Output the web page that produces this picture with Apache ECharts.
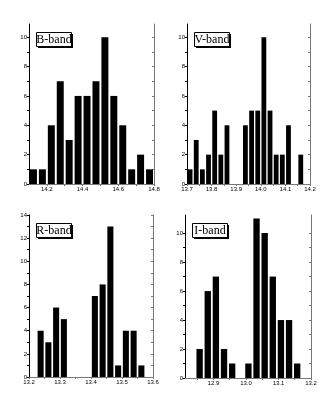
<!DOCTYPE html>
<html lang="en">
<head>
    <meta charset="UTF-8">
    <title>Band histograms</title>
    <script src="https://cdn.jsdelivr.net/npm/echarts@6/dist/echarts.min.js"></script>
</head>
<body style="margin:0;background:#fff;">
<div id="main" style="width: 327px; height: 403px;"></div>
<script type="text/javascript">
    // bin counts for each band (bins start at *Start, width *Width)
    var bStart = 14.1, bWidth = 0.05;
    var bCounts = [1, 1, 4, 7, 3, 6, 6, 7, 10, 6, 4, 1, 2, 1];
    var vStart = 13.7, vWidth = 0.025;
    var vCounts = [1, 3, 1, 2, 5, 2, 4, 0, 0, 4, 5, 5, 10, 5, 2, 2, 4, 0, 2];
    var rStart = 13.2, rWidth = 0.025;
    var rCounts = [0, 4, 3, 6, 5, 0, 0, 0, 7, 8, 13, 1, 4, 4, 1];
    var iStart = 12.845, iWidth = 0.025;
    var iCounts = [2, 6, 7, 2, 1, 0, 1, 11, 10, 7, 4, 4, 1];

    // axis ticks and labels
    var bXTicks = [14.2, 14.3, 14.4, 14.5, 14.6, 14.7, 14.8];
    var bXLabels = [14.2, 14.4, 14.6, 14.8];
    var vXTicks = [13.7, 13.75, 13.8, 13.85, 13.9, 13.95, 14.0, 14.05, 14.1, 14.15, 14.2];
    var vXLabels = [13.7, 13.8, 13.9, 14.0, 14.1, 14.2];
    var rXTicks = [13.2, 13.25, 13.3, 13.35, 13.4, 13.45, 13.5, 13.55, 13.6];
    var rXLabels = [13.2, 13.3, 13.4, 13.5, 13.6];
    var iXTicks = [12.85, 12.9, 12.95, 13.0, 13.05, 13.1, 13.15, 13.2];
    var iXLabels = [12.9, 13.0, 13.1, 13.2];
    var yTicks11 = [0, 1, 2, 3, 4, 5, 6, 7, 8, 9, 10];
    var yLabels11 = [0, 2, 4, 6, 8, 10];
    var yTicks14 = [0, 1, 2, 3, 4, 5, 6, 7, 8, 9, 10, 11, 12, 13, 14];
    var yLabels14 = [0, 2, 4, 6, 8, 10, 12, 14];

    var bandNames = ['B-band', 'V-band', 'R-band', 'I-band'];

    var panels = [
        {start: bStart, width: bWidth, counts: bCounts, xTicks: bXTicks, xLabels: bXLabels,
            yTicks: yTicks11, yLabels: yLabels11, xmin: 14.1, xmax: 14.8, ymax: 10.9,
            grid: {left: 29, top: 24, width: 125, height: 160}},
        {start: vStart, width: vWidth, counts: vCounts, xTicks: vXTicks, xLabels: vXLabels,
            yTicks: yTicks11, yLabels: yLabels11, xmin: 13.7, xmax: 14.2, ymax: 10.9,
            grid: {left: 187, top: 24, width: 123, height: 160}},
        {start: rStart, width: rWidth, counts: rCounts, xTicks: rXTicks, xLabels: rXLabels,
            yTicks: yTicks14, yLabels: yLabels14, xmin: 13.2, xmax: 13.6, ymax: 14,
            grid: {left: 29, top: 215, width: 124, height: 162}},
        {start: iStart, width: iWidth, counts: iCounts, xTicks: iXTicks, xLabels: iXLabels,
            yTicks: yTicks11, yLabels: yLabels11, xmin: 12.8125, xmax: 13.2, ymax: 11.25,
            grid: {left: 185, top: 215, width: 126, height: 163}}
    ];

    var labelFont = {fontFamily: 'Liberation Sans', fontSize: 6, color: '#000'};

    var grids = [], xAxes = [], yAxes = [], series = [], graphics = [];

    panels.forEach(function (p, k) {
        grids.push(p.grid);
        // bottom / left axes carry the labels
        xAxes.push({
            gridIndex: k, type: 'value', position: 'bottom', min: p.xmin, max: p.xmax,
            splitLine: {show: false},
            axisLine: {lineStyle: {color: '#000', width: 1}},
            axisTick: {customValues: p.xTicks, length: 2, lineStyle: {color: '#000'}},
            axisLabel: Object.assign({customValues: p.xLabels, margin: 2,
                formatter: function (v) { return v.toFixed(1); }}, labelFont)
        });
        // top / right axes: only the frame with small ticks
        xAxes.push({
            gridIndex: k, type: 'value', position: 'top', min: p.xmin, max: p.xmax,
            splitLine: {show: false},
            axisLine: {lineStyle: {color: '#777', width: 1}},
            axisTick: {customValues: p.xTicks, length: 2, inside: true, lineStyle: {color: '#777'}},
            axisLabel: {show: false}
        });
        yAxes.push({
            gridIndex: k, type: 'value', position: 'left', min: 0, max: p.ymax,
            splitLine: {show: false},
            axisLine: {lineStyle: {color: '#000', width: 1}},
            axisTick: {customValues: p.yTicks, length: 2, lineStyle: {color: '#000'}},
            axisLabel: Object.assign({customValues: p.yLabels, margin: 2}, labelFont)
        });
        yAxes.push({
            gridIndex: k, type: 'value', position: 'right', min: 0, max: p.ymax,
            splitLine: {show: false},
            axisLine: {lineStyle: {color: '#777', width: 1}},
            axisTick: {customValues: p.yTicks, length: 2, inside: true, lineStyle: {color: '#777'}},
            axisLabel: {show: false}
        });

        var data = [];
        for (var i = 0; i < p.counts.length; i++) {
            if (p.counts[i] > 0) {
                data.push([p.start + i * p.width, p.start + (i + 1) * p.width, p.counts[i]]);
            }
        }
        series.push({
            type: 'custom',
            xAxisIndex: k * 2,
            yAxisIndex: k * 2,
            silent: true,
            data: data,
            renderItem: function (params, api) {
                var a = api.coord([api.value(0), api.value(2)]);
                var b = api.coord([api.value(1), 0]);
                var w = b[0] - a[0];
                var bw = w * 0.78;
                return {
                    type: 'rect',
                    shape: {x: a[0] + (w - bw) / 2, y: a[1], width: bw, height: b[1] - a[1]},
                    style: {fill: '#000'}
                };
            }
        });

        // band label box with hard shadow
        var bx = p.grid.left + 7, by = p.grid.top + 8;
        graphics.push({
            type: 'rect', z: 100, silent: true,
            shape: {x: bx + 2, y: by + 2, width: 35, height: 14},
            style: {fill: '#000'}
        });
        graphics.push({
            type: 'rect', z: 101, silent: true,
            shape: {x: bx + 0.5, y: by + 0.5, width: 35, height: 14},
            style: {fill: '#fff', stroke: '#000', lineWidth: 1}
        });
        graphics.push({
            type: 'text', z: 102, silent: true, x: bx + 18, y: by + 7.5,
            style: {text: bandNames[k], fill: '#000', font: '12px "Liberation Serif"',
                align: 'center', verticalAlign: 'middle'}
        });
    });

    var option = {
        animation: false,
        backgroundColor: '#fff',
        grid: grids,
        xAxis: xAxes,
        yAxis: yAxes,
        series: series,
        graphic: {elements: graphics}
    };

    var myChart = echarts.init(document.getElementById('main'));
    myChart.setOption(option);
</script>
</body>
</html>
